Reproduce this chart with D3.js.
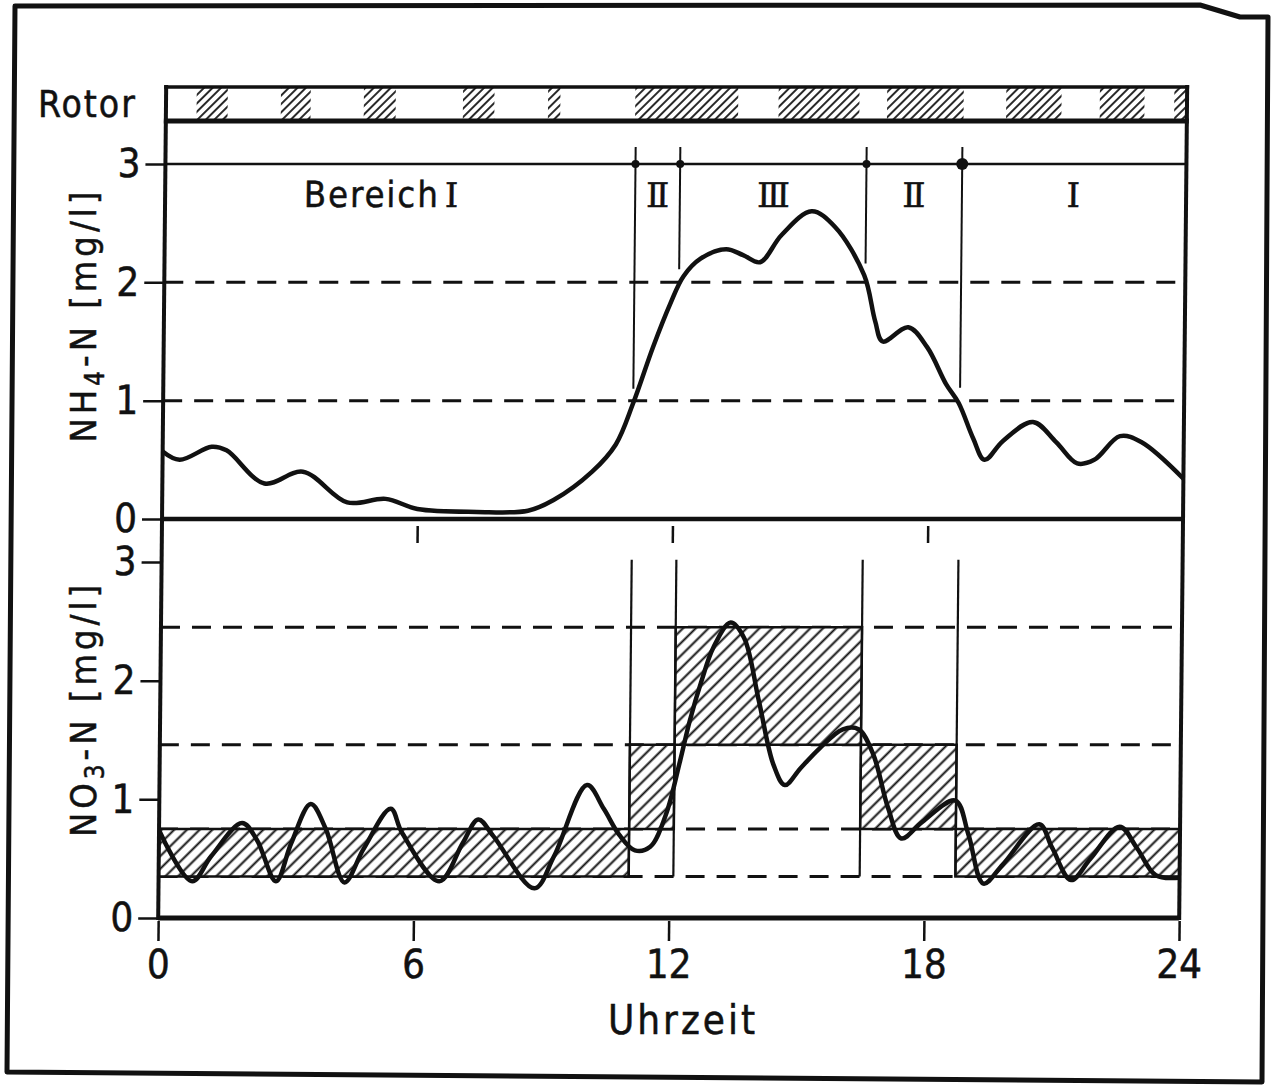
<!DOCTYPE html>
<html>
<head>
<meta charset="utf-8">
<script src="https://cdn.jsdelivr.net/npm/d3@7"></script>
<style>
  body { margin: 0; background: #fff; }
  text { font-family: "DejaVu Sans Condensed", "DejaVu Sans", sans-serif; font-stretch: condensed; fill: #111; stroke: #111; stroke-width: 0.5px; }
  .roman { font-family: "DejaVu Serif", "Liberation Serif", serif; font-stretch: normal; }
</style>
</head>
<body>
<svg id="chart" width="1274" height="1088"></svg>
<script>
// ---- data -------------------------------------------------------------
// hour-of-day tick labels
const hourTicks = [0, 6, 12, 18, 24];
const nh4Ticks = [0, 1, 2, 3];
const no3Ticks = [0, 1, 2, 3];

// rotor running periods [start h, end h]
const rotorOn = [[0.72, 1.45], [2.7, 3.4], [4.65, 5.4], [6.98, 7.72], [8.98, 9.27],
                 [11.03, 13.45], [14.4, 16.3], [16.95, 18.75], [19.75, 21.05],
                 [21.95, 23.0], [23.7, 24]];

// operating ranges (Bereich) separated at these hours
const rangeBounds = [11.05, 12.1, 16.48, 18.73];
const rangeLabels = [
  { h: 11.58, t: "Ⅱ" }, { h: 14.3, t: "Ⅲ" }, { h: 17.6, t: "Ⅱ" }, { h: 21.35, t: "Ⅰ" }
];
// lower end (mg/l) of each boundary line in the NH4 panel
const boundEndsNH4 = [1.1, 2.11, 2.16, 1.11];

// NH4-N concentration [h, mg/l]
const nh4 = [[0, 0.57], [0.4, 0.5], [1.15, 0.61], [1.5, 0.58], [2.4, 0.3], [3.3, 0.4],
  [4.35, 0.14], [5.25, 0.17], [6.0, 0.085], [7.4, 0.06], [8.6, 0.07], [9.2, 0.16],
  [10.1, 0.4], [10.65, 0.63], [11.05, 0.98], [11.5, 1.45], [11.9, 1.82], [12.2, 2.05],
  [12.6, 2.2], [13.2, 2.28], [13.6, 2.23], [14.0, 2.17], [14.5, 2.4], [15.2, 2.6],
  [15.75, 2.47], [16.45, 2.06], [16.72, 1.67], [16.9, 1.5], [17.5, 1.62], [17.95, 1.45],
  [18.4, 1.14], [18.7, 0.98], [19.05, 0.68], [19.32, 0.5], [19.75, 0.66], [20.45, 0.82],
  [21.0, 0.65], [21.5, 0.47], [21.9, 0.5], [22.5, 0.7], [23.0, 0.65], [24, 0.34]];

// NO3-N concentration [h, mg/l]
const no3 = [[0, 0.74], [0.79, 0.31], [1.23, 0.52], [1.95, 0.8], [2.3, 0.66], [2.76, 0.31],
  [3.11, 0.63], [3.56, 0.96], [3.92, 0.75], [4.37, 0.3], [4.81, 0.58], [5.44, 0.92],
  [5.71, 0.72], [6.6, 0.31], [7.14, 0.63], [7.5, 0.83], [7.86, 0.69], [8.84, 0.25],
  [9.29, 0.52], [10.05, 1.12], [10.45, 0.92], [10.82, 0.7], [11.19, 0.57], [11.55, 0.6],
  [11.91, 0.87], [12.23, 1.32], [12.45, 1.66], [12.72, 2.0], [12.99, 2.28], [13.39, 2.49],
  [13.71, 2.36], [14.07, 1.83], [14.43, 1.29], [14.7, 1.12], [15.06, 1.26], [15.51, 1.43],
  [16.05, 1.59], [16.42, 1.59], [16.77, 1.38], [17.13, 0.93], [17.45, 0.67], [17.94, 0.81],
  [18.71, 0.99], [19.03, 0.7], [19.39, 0.29], [19.84, 0.45], [20.69, 0.79], [21.0, 0.59],
  [21.45, 0.32], [21.9, 0.5], [22.58, 0.77], [22.99, 0.59], [23.44, 0.36], [24, 0.34]];

// target NO3 bands per range [start h, end h, low, high]
const no3Bands = [[0, 11.05, 0.35, 0.75], [11.05, 12.1, 0.75, 1.46], [12.1, 16.48, 1.46, 2.45],
                  [16.48, 18.73, 0.75, 1.46], [18.73, 24, 0.35, 0.75]];
const no3Levels = [0.35, 0.75, 1.46, 2.45];
const nh4Levels = [1, 2];

// ---- drawing ----------------------------------------------------------
const ink = "#111";
const svg = d3.select("#chart");
svg.append("rect").attr("width", 1274).attr("height", 1088).attr("fill", "#fff");

const defs = svg.append("defs");
function hatch(id, gap, sw) {
  const p = defs.append("pattern").attr("id", id)
    .attr("patternUnits", "userSpaceOnUse").attr("width", gap).attr("height", gap)
    .attr("patternTransform", "rotate(45)");
  p.append("rect").attr("width", gap).attr("height", gap).attr("fill", "#fff");
  p.append("line").attr("x1", gap / 2).attr("x2", gap / 2).attr("y1", 0).attr("y2", gap)
    .attr("stroke", ink).attr("stroke-width", sw);
}
hatch("hatchRotor", 6, 1.8);
hatch("hatchBand", 9, 2);

// outer frame
svg.append("path")
  .attr("d", "M15,6 L1200,5 L1240,17 L1268,17 L1262,1082 L7,1072 Z")
  .attr("fill", "none").attr("stroke", ink).attr("stroke-width", 5)
  .attr("stroke-linejoin", "round");

const g = svg.append("g").attr("transform", "skewX(-0.55)");

const x = d3.scaleLinear().domain([0, 24]).range([167, 1188]);
const yT = d3.scaleLinear().domain([0, 3]).range([519, 164]);
const yB = d3.scaleLinear().domain([0, 3]).range([918, 562]);
const rotorTop = 87, rotorBot = 121;

// rotor bar
g.selectAll("rect.rotor").data(rotorOn).join("rect").attr("class", "rotor")
  .attr("x", d => x(d[0])).attr("width", d => x(d[1]) - x(d[0]))
  .attr("y", rotorTop).attr("height", rotorBot - rotorTop)
  .attr("fill", "url(#hatchRotor)");
g.append("line").attr("x1", x(0) - 2).attr("x2", x(24) + 2).attr("y1", rotorTop).attr("y2", rotorTop)
  .attr("stroke", ink).attr("stroke-width", 3.5);
g.append("line").attr("x1", x(0) - 2).attr("x2", x(24) + 2).attr("y1", rotorBot).attr("y2", rotorBot)
  .attr("stroke", ink).attr("stroke-width", 5);

// dashed reference levels
const dash = "19 12";
g.selectAll("line.nh4lvl").data(nh4Levels).join("line").attr("class", "nh4lvl")
  .attr("x1", x(0)).attr("x2", x(24)).attr("y1", d => yT(d)).attr("y2", d => yT(d))
  .attr("stroke", ink).attr("stroke-width", 3).attr("stroke-dasharray", dash);
g.selectAll("line.no3lvl").data(no3Levels).join("line").attr("class", "no3lvl")
  .attr("x1", x(0)).attr("x2", x(24)).attr("y1", d => yB(d)).attr("y2", d => yB(d))
  .attr("stroke", ink).attr("stroke-width", 3).attr("stroke-dasharray", dash);

// NO3 target bands
g.selectAll("rect.band").data(no3Bands).join("rect").attr("class", "band")
  .attr("x", d => x(d[0])).attr("width", d => x(d[1]) - x(d[0]))
  .attr("y", d => yB(d[3])).attr("height", d => yB(d[2]) - yB(d[3]))
  .attr("fill", "url(#hatchBand)").attr("stroke", ink).attr("stroke-width", 2.5);

// upper limit line of the NH4 panel
g.append("line").attr("x1", x(0)).attr("x2", x(24)).attr("y1", yT(3)).attr("y2", yT(3))
  .attr("stroke", ink).attr("stroke-width", 2.5);

// range boundaries
g.selectAll("line.bT").data(rangeBounds).join("line").attr("class", "bT")
  .attr("x1", d => x(d)).attr("x2", d => x(d))
  .attr("y1", yT(3) - 17).attr("y2", (d, i) => yT(boundEndsNH4[i]))
  .attr("stroke", ink).attr("stroke-width", 2);
g.selectAll("circle.bT").data(rangeBounds).join("circle").attr("class", "bT")
  .attr("cx", d => x(d)).attr("cy", yT(3)).attr("r", (d, i) => i === 3 ? 6 : 4)
  .attr("fill", ink);
g.selectAll("line.bB").data(rangeBounds).join("line").attr("class", "bB")
  .attr("x1", d => x(d)).attr("x2", d => x(d))
  .attr("y1", yB(3.02)).attr("y2", yB(0.35))
  .attr("stroke", ink).attr("stroke-width", 2.2);

// range labels
const bereich = g.append("text").attr("x", x(5.1)).attr("y", 207).attr("text-anchor", "middle")
  .attr("font-size", 36).style("letter-spacing", "2px");
bereich.append("tspan").text("Bereich");
bereich.append("tspan").attr("class", "roman").attr("dx", 5).attr("font-size", 34).text("Ⅰ");
g.selectAll("text.range").data(rangeLabels).join("text").attr("class", "range roman")
  .attr("x", d => x(d.h)).attr("y", 207).attr("text-anchor", "middle")
  .attr("font-size", 34).text(d => d.t);

// concentration curves
const line = (ys) => d3.line().x(d => x(d[0])).y(d => ys(d[1])).curve(d3.curveCatmullRom.alpha(0.5));
g.append("path").datum(nh4).attr("d", line(yT)).attr("fill", "none")
  .attr("stroke", ink).attr("stroke-width", 4.5).attr("stroke-linejoin", "round");
g.append("path").datum(no3).attr("d", line(yB)).attr("fill", "none")
  .attr("stroke", ink).attr("stroke-width", 4.5).attr("stroke-linejoin", "round");

// frame lines: left axis, right border, panel separator, bottom axis
g.append("line").attr("x1", x(0)).attr("x2", x(0)).attr("y1", rotorTop - 2).attr("y2", yB(0) + 2)
  .attr("stroke", ink).attr("stroke-width", 4);
g.append("line").attr("x1", x(24)).attr("x2", x(24)).attr("y1", rotorTop - 2).attr("y2", yB(0) + 2)
  .attr("stroke", ink).attr("stroke-width", 4);
g.append("line").attr("x1", x(0)).attr("x2", x(24)).attr("y1", yT(0)).attr("y2", yT(0))
  .attr("stroke", ink).attr("stroke-width", 4.5);
g.append("line").attr("x1", x(0)).attr("x2", x(24)).attr("y1", yB(0)).attr("y2", yB(0))
  .attr("stroke", ink).attr("stroke-width", 5);

// axes
function styleAxis(sel, fs) {
  sel.select(".domain").remove();
  sel.selectAll(".tick line").attr("stroke", ink).attr("stroke-width", 2.5);
  sel.selectAll(".tick text").attr("fill", ink).attr("font-size", fs);
  sel.attr("font-family", null).attr("font-size", null);
}
g.append("g").attr("transform", `translate(${x(0)},0)`)
  .call(d3.axisLeft(yT).tickValues(nh4Ticks).tickFormat(d3.format("d")).tickSize(20).tickPadding(5))
  .call(s => styleAxis(s, 40));
g.append("g").attr("transform", `translate(${x(0)},0)`)
  .call(d3.axisLeft(yB).tickValues(no3Ticks).tickFormat(d3.format("d")).tickSize(20).tickPadding(5))
  .call(s => styleAxis(s, 40));
g.append("g").attr("transform", `translate(0,${yB(0) + 3})`)
  .call(d3.axisBottom(x).tickValues(hourTicks).tickFormat(d3.format("d")).tickSize(20).tickPadding(9))
  .call(s => styleAxis(s, 40));
// hour marks under the NH4 panel
g.append("g").attr("transform", `translate(0,${yT(0) + 7})`)
  .call(d3.axisBottom(x).tickValues(hourTicks.slice(1, 4)).tickFormat("").tickSize(17))
  .call(s => styleAxis(s, 40));

// titles
svg.append("text").attr("x", 38).attr("y", 117).attr("font-size", 37)
  .style("letter-spacing", "2px").text("Rotor");
svg.append("text").attr("x", 683).attr("y", 1034).attr("text-anchor", "middle")
  .attr("font-size", 40).style("letter-spacing", "3px").text("Uhrzeit");

function yTitle(cx, cy, a, sub, b) {
  const t = svg.append("text").attr("transform", `translate(${cx},${cy}) rotate(-90)`)
    .attr("text-anchor", "middle").attr("font-size", 36).style("letter-spacing", "4px");
  t.append("tspan").text(a);
  t.append("tspan").attr("font-size", 26).attr("dy", 8).text(sub);
  t.append("tspan").attr("dy", -8).text(b);
}
yTitle(96, 315, "NH", "4", "-N [mg/l]");
yTitle(96, 709, "NO", "3", "-N [mg/l]");
</script>
</body>
</html>
